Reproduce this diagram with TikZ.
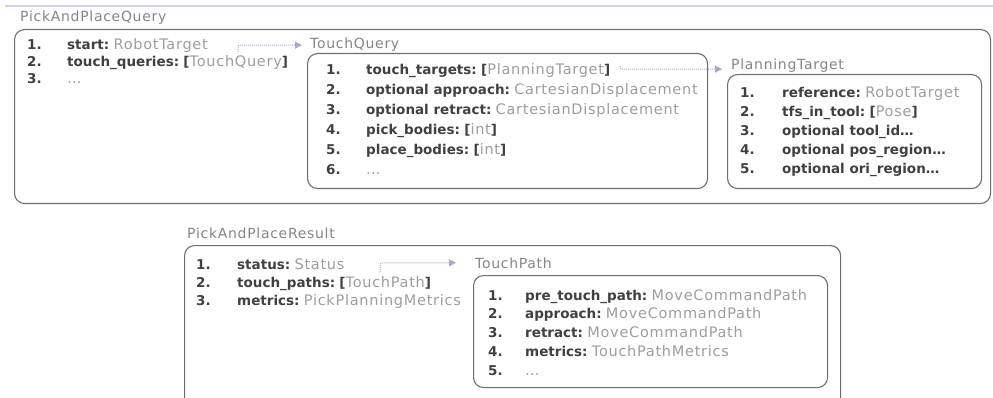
\documentclass[tikz,border=0pt]{standalone}
\usepackage{fontspec}
\setmainfont{DejaVu Sans}
\newfontfamily\typefont[LetterSpace=5]{DejaVu Sans}
\usetikzlibrary{arrows.meta}
\definecolor{boxline}{HTML}{6E6E6E}
\definecolor{fieldcol}{HTML}{404040}
\definecolor{typecol}{HTML}{9C9CA2}
\definecolor{titlecol}{HTML}{858585}
\definecolor{linkcol}{HTML}{A9A9C9}
\definecolor{rulecol}{HTML}{CFCFF2}
\tikzset{
  frame/.style={draw=boxline, line width=1.1pt, rounded corners=10pt},
  txt/.style={anchor=base west, inner sep=0pt, font=\fontsize{13.5}{16}\selectfont},
  title/.style={txt, text=titlecol, font=\fontsize{14}{16}\selectfont\typefont},
  num/.style={txt, text=fieldcol, font=\fontsize{13.5}{16}\selectfont\bfseries},
  entry/.style={txt, text=fieldcol},
  link/.style={draw=linkcol, line width=1pt, densely dotted, rounded corners=2pt,
    -{Triangle[length=7pt,width=7pt,fill=linkcol]}},
}
% type names: light grey, slightly larger and spaced
\newcommand{\tyname}[1]{\textcolor{typecol}{\fontsize{14.5}{16}\selectfont\typefont #1}}
% bold field name, then its type
\newcommand{\fld}[2]{\textbf{#1}\ \tyname{#2}}
% bold field name with a list type [T]
\newcommand{\lst}[2]{\textbf{#1}\ \textbf{[}\tyname{#2}\textbf{]}}
\begin{document}
\begin{tikzpicture}[x=1pt,y=-1pt]
\useasboundingbox (0,0) rectangle (993,398);
\clip (0,0) rectangle (993,398);
% header rule
\draw[rulecol, line width=1.2pt] (5,6) -- (993,6);

% ---- PickAndPlaceQuery
\node[title] (papqT) at (20,22) {PickAndPlaceQuery};
\node[frame, minimum width=976pt, minimum height=174pt, anchor=north west] (papq) at (14,29) {};
\node[num] (papq1n) at (27,50) {1.};
\node[num] (papq2n) at (27,67) {2.};
\node[num] (papq3n) at (27,84) {3.};
\node[entry] (papq1) at (67,50) {\fld{start:}{RobotTarget}};
\node[entry] (papq2) at (67,67) {\lst{touch\_queries:}{TouchQuery}};
\node[entry] (papq3) at (67,84) {\tyname{\dots}};

% ---- TouchQuery
\node[title] (tqT) at (310,49) {TouchQuery};
\node[frame, minimum width=400pt, minimum height=135pt, anchor=north west] (tq) at (307,53) {};
\foreach \i/\y in {1/75,2/95,3/115,4/135,5/155,6/175}
  \node[num] (tq\i n) at (326,\y) {\i.};
\node[entry] (tq1) at (366,75) {\lst{touch\_targets:}{PlanningTarget}};
\node[entry] (tq2) at (366,95) {\fld{optional approach:}{CartesianDisplacement}};
\node[entry] (tq3) at (366,115) {\fld{optional retract:}{CartesianDisplacement}};
\node[entry] (tq4) at (366,135) {\lst{pick\_bodies:}{int}};
\node[entry] (tq5) at (366,155) {\lst{place\_bodies:}{int}};
\node[entry] (tq6) at (366,175) {\tyname{\dots}};

% ---- PlanningTarget
\node[title] (ptT) at (731,70) {PlanningTarget};
\node[frame, minimum width=254pt, minimum height=114pt, anchor=north west] (pt) at (727,74) {};
\foreach \i/\y in {1/98,2/117,3/136,4/155,5/174}
  \node[num] (pt\i n) at (740,\y) {\i.};
\node[entry] (pt1) at (782,98) {\fld{reference:}{RobotTarget}};
\node[entry] (pt2) at (782,117) {\lst{tfs\_in\_tool:}{Pose}};
\node[entry] (pt3) at (782,136) {\textbf{optional tool\_id\dots}};
\node[entry] (pt4) at (782,155) {\textbf{optional pos\_region\dots}};
\node[entry] (pt5) at (782,174) {\textbf{optional ori\_region\dots}};

% ---- PickAndPlaceResult
\node[title] (paprT) at (187,239) {PickAndPlaceResult};
\node[frame, minimum width=656pt, minimum height=170pt, anchor=north west] (papr) at (184,245) {};
\foreach \i/\y in {1/269,2/287,3/305}
  \node[num] (papr\i n) at (196,\y) {\i.};
\node[entry] (papr1) at (237,269) {\fld{status:}{Status}};
\node[entry] (papr2) at (237,287) {\lst{touch\_paths:}{TouchPath}};
\node[entry] (papr3) at (237,305) {\fld{metrics:}{PickPlanningMetrics}};

% ---- TouchPath
\node[title] (tpT) at (475,268) {TouchPath};
\node[frame, minimum width=354pt, minimum height=112pt, anchor=north west] (tp) at (473,275) {};
\foreach \i/\y in {1/300,2/318.5,3/337,4/356,5/375}
  \node[num] (tp\i n) at (488,\y) {\i.};
\node[entry] (tp1) at (525,300) {\fld{pre\_touch\_path:}{MoveCommandPath}};
\node[entry] (tp2) at (525,318.5) {\fld{approach:}{MoveCommandPath}};
\node[entry] (tp3) at (525,337) {\fld{retract:}{MoveCommandPath}};
\node[entry] (tp4) at (525,356) {\fld{metrics:}{TouchPathMetrics}};
\node[entry] (tp5) at (525,375) {\tyname{\dots}};

% ---- references between types
\coordinate (l1s) at (238,52);
\coordinate (l2s) at (620,66);
\coordinate (l3s) at (380,272);
\draw[link] (l1s) |- ([xshift=-8pt]tqT.west);
\draw[link] (l2s) |- ([xshift=-9pt,yshift=-3pt]ptT.west);
\draw[link] (l3s) |- ([xshift=-19pt]tpT.west);
\end{tikzpicture}
\end{document}
